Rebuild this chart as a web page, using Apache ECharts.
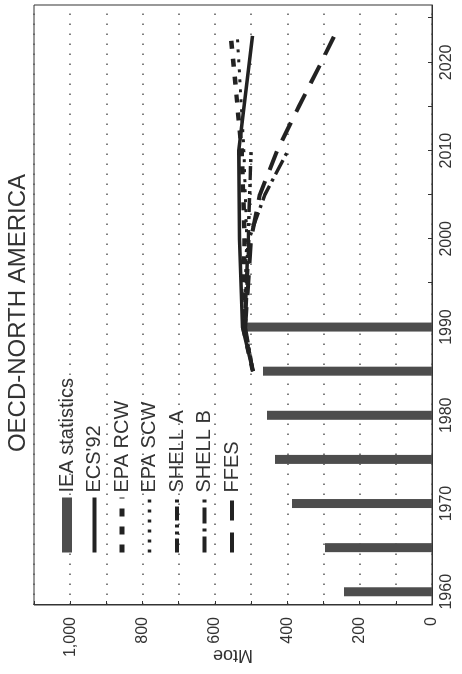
<!DOCTYPE html>
<html>
<head>
<meta charset="UTF-8">
<title>OECD-North America</title>
<script type="text/javascript" src="https://cdn.jsdelivr.net/npm/echarts@6/dist/echarts.min.js"></script>
<style>
  html, body { margin: 0; padding: 0; width: 462px; height: 674px; overflow: hidden; background: #fff; }
  #wrap { position: relative; width: 462px; height: 674px; overflow: hidden; }
  /* chart is drawn landscape, then turned a quarter left like the printed page */
  #main {
    position: absolute; left: 0; top: 0;
    width: 674px; height: 462px;
    transform-origin: 0 0;
    transform: translate(0, 674px) rotate(-90deg);
  }
</style>
</head>
<body>
<div id="wrap"><div id="main"></div></div>
<script type="text/javascript">
// IEA statistics (bars)
var statYears = [1960, 1965, 1970, 1975, 1980, 1985, 1990];
var statValues = [243, 296, 387, 434, 456, 467, 522];

// projections
var ecsYears = [1985, 1990, 2000, 2010, 2023];
var ecsValues = [495, 524, 532, 534, 496];

var rcwYears = [1985, 1990, 2000, 2010, 2023];
var rcwValues = [495, 522, 518, 526, 556];

var scwYears = [1985, 1990, 2000, 2010, 2023];
var scwValues = [495, 520, 512, 520, 538];

var shellAYears = [1985, 1990, 2000, 2010];
var shellAValues = [495, 518, 508, 500];

var shellBYears = [1985, 1990, 2000, 2005, 2010];
var shellBValues = [495, 516, 506, 462, 398];

var ffesYears = [1990, 2000, 2005, 2010, 2015, 2020, 2023];
var ffesValues = [516, 500, 476, 428, 368, 306, 270];

// axes
var yearLabels = [1960, 1970, 1980, 1990, 2000, 2010, 2020];
var yearTicks = [1960, 1965, 1970, 1975, 1980, 1985, 1990, 1995, 2000, 2005, 2010, 2015, 2020, 2025];
var mtoeLabels = [0, 200, 400, 600, 800, 1000];
var mtoeTicks = [0, 100, 200, 300, 400, 500, 600, 700, 800, 900, 1000, 1100];

function pairs(xs, ys) {
    return xs.map(function (x, i) { return [x, ys[i]]; });
}

var FONT = "'Liberation Sans', Arial, sans-serif";
var INK = '#222';

function proj(name, xs, ys, dash, width) {
    return {
        name: name,
        type: 'line',
        data: pairs(xs, ys),
        symbol: 'none',
        z: 3,
        lineStyle: { color: INK, width: width, type: dash, cap: 'butt' },
        // transparent so the legend shows only the dashed line, no dot
        itemStyle: { color: 'rgba(0,0,0,0)', borderWidth: 0 }
    };
}

function legendLine(name, width) {
    return { name: name, lineStyle: { width: width } };
}

var myChart = echarts.init(document.getElementById('main'));
var option = {
    animation: false,
    backgroundColor: '#fff',
    title: {
        text: 'OECD-NORTH AMERICA',
        left: 356,
        top: 1,
        textAlign: 'center',
        textStyle: { fontFamily: FONT, fontSize: 24, fontWeight: 'normal', color: '#333' }
    },
    legend: {
        orient: 'vertical',
        left: 114,
        top: 52,
        itemWidth: 55,
        itemHeight: 10,
        itemGap: 7.5,
        lineStyle: { width: 'inherit' },
        textStyle: { fontFamily: FONT, fontSize: 20, lineHeight: 20, color: '#333' },
        data: [
            { name: 'IEA statistics', icon: 'rect' },
            legendLine("ECS'92", 4),
            legendLine('EPA RCW', 5),
            legendLine('EPA SCW', 3.5),
            legendLine('SHELL A', 4),
            legendLine('SHELL B', 4),
            legendLine('FFES', 4)
        ]
    },
    grid: {
        left: 69, right: 5, top: 34, bottom: 30,
        outerBoundsMode: 'none',
        show: true, borderColor: '#333', borderWidth: 1
    },
    xAxis: {
        type: 'value',
        min: 1958.5,
        max: 2026.5,
        axisLine: { lineStyle: { color: '#333', width: 1 } },
        axisTick: { inside: true, length: 4, customValues: yearTicks, lineStyle: { color: '#333' } },
        axisLabel: {
            customValues: yearLabels, margin: 7,
            fontFamily: FONT, fontSize: 16, color: '#333',
            formatter: function (v) { return String(v); }
        },
        splitLine: { show: false }
    },
    yAxis: {
        type: 'value',
        min: 0,
        max: 1100,
        interval: 200,
        name: 'Mtoe',
        nameLocation: 'middle',
        nameGap: 41,
        nameMoveOverlap: false,
        nameTextStyle: { fontFamily: FONT, fontSize: 18, color: '#333' },
        axisLine: { show: true, lineStyle: { color: '#333', width: 1 } },
        axisTick: { show: true, inside: true, length: 4, customValues: mtoeTicks, lineStyle: { color: '#333' } },
        axisLabel: {
            customValues: mtoeLabels, margin: 12,
            fontFamily: FONT, fontSize: 16, color: '#333',
            formatter: function (v) { return v.toLocaleString('en-US'); }
        },
        splitLine: { show: true, lineStyle: { color: '#555', width: 1.5, type: [1.5, 8.5] } }
    },
    series: [
        {
            name: 'IEA statistics',
            type: 'bar',
            data: pairs(statYears, statValues),
            barWidth: 9,
            z: 2,
            itemStyle: { color: '#4d4d4d' }
        },
        proj("ECS'92", ecsYears, ecsValues, 'solid', 3.5),
        proj('EPA RCW', rcwYears, rcwValues, [8, 10], 4.5),
        proj('EPA SCW', scwYears, scwValues, [3, 7], 3),
        proj('SHELL A', shellAYears, shellAValues, [14, 4, 3, 4, 3, 4], 3.5),
        proj('SHELL B', shellBYears, shellBValues, [16, 5, 3, 5], 3.5),
        proj('FFES', ffesYears, ffesValues, [20, 12], 4)
    ]
};
myChart.setOption(option);
</script>
</body>
</html>
